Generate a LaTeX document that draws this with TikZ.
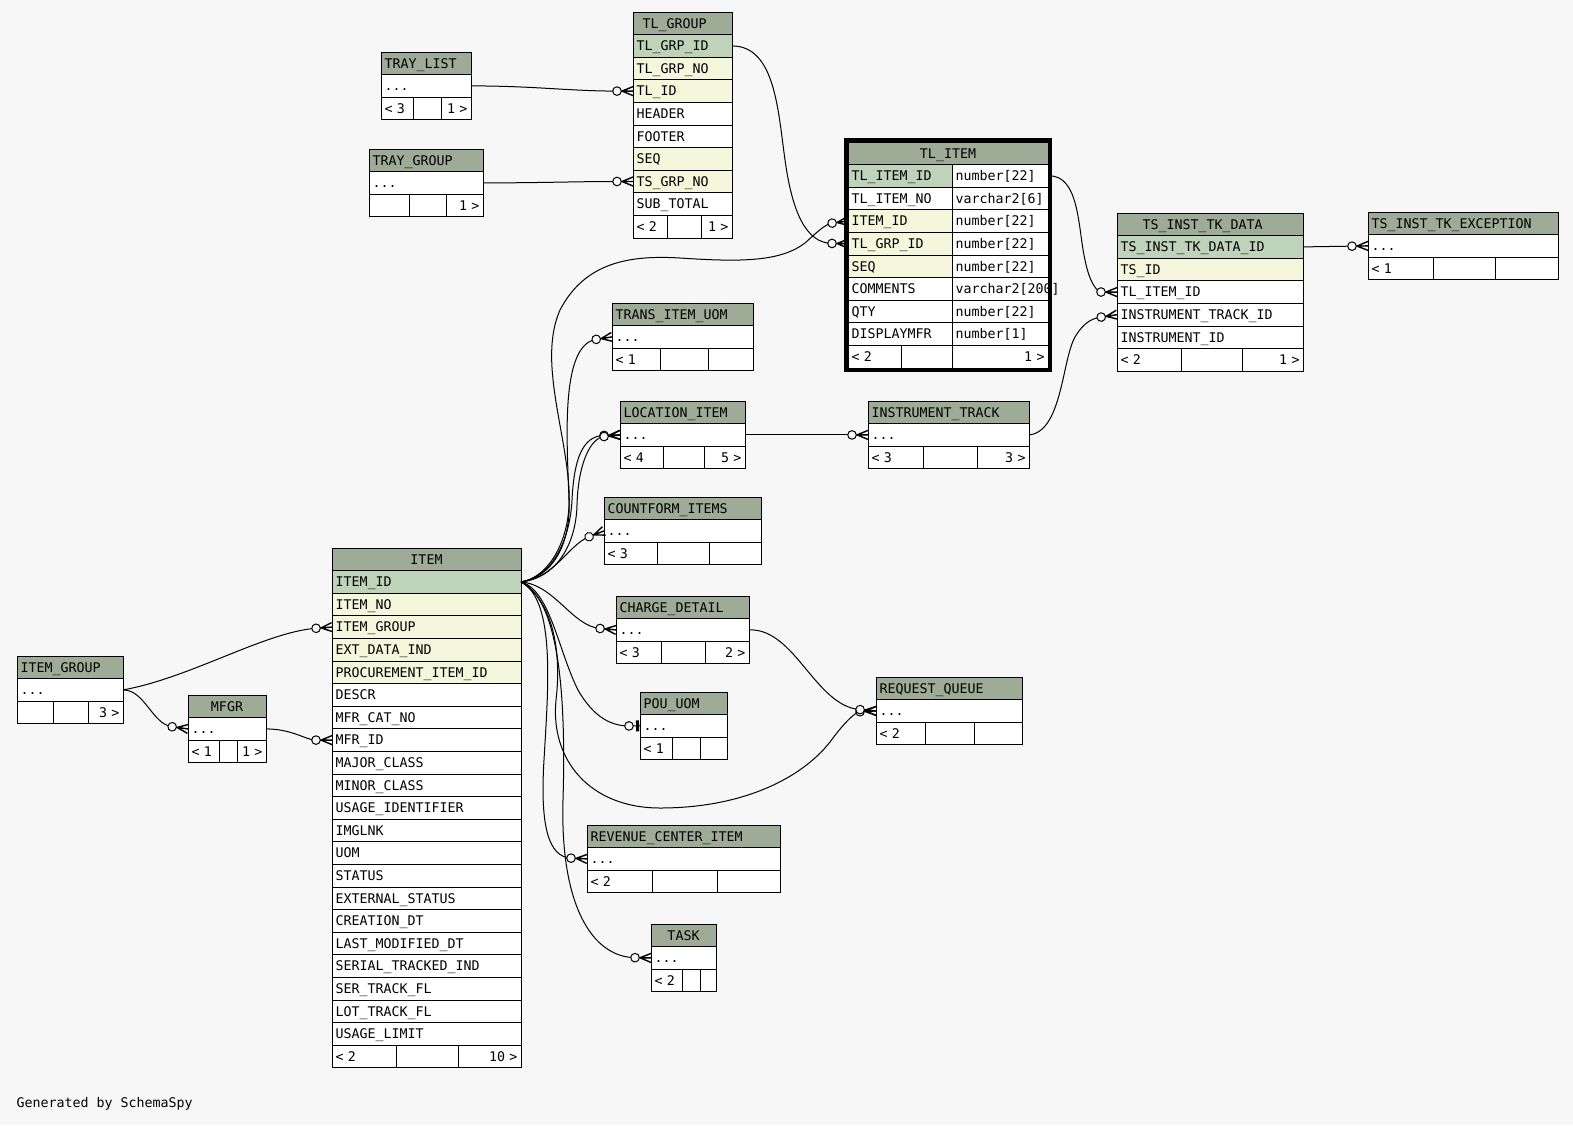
\documentclass[tikz,border=0pt]{standalone}
\usepackage{fontspec}
\usepackage{tikz}
\usetikzlibrary{positioning}
\newfontfamily\schemafont{DejaVu Sans Mono}
\definecolor{bgc}{HTML}{F7F7F7}
\definecolor{hdrc}{HTML}{9EAB96}
\definecolor{pkc}{HTML}{BFD3BA}
\definecolor{fkc}{HTML}{F5F7DC}

% zero or many: ring and crow's foot
\pgfdeclarearrow{
  name=crowodot,
  setup code={
    \pgfarrowssettipend{0pt}
    \pgfarrowssetlineend{-16pt}
    \pgfarrowssetbackend{-21pt}
    \pgfarrowshullpoint{0pt}{5pt}
    \pgfarrowshullpoint{0pt}{-5pt}
    \pgfarrowshullpoint{-21pt}{5pt}
    \pgfarrowshullpoint{-21pt}{-5pt}
  },
  drawing code={
    \pgfsetlinewidth{1.4pt}
    \pgfpathmoveto{\pgfqpoint{0pt}{4.5pt}}
    \pgfpathlineto{\pgfqpoint{-11pt}{0pt}}
    \pgfpathlineto{\pgfqpoint{0pt}{-4.5pt}}
    \pgfpathmoveto{\pgfqpoint{0pt}{0pt}}
    \pgfpathlineto{\pgfqpoint{-11.7pt}{0pt}}
    \pgfusepathqstroke
    \pgfsetlinewidth{1pt}
    \pgfsetfillcolor{bgc}
    \pgfpathcircle{\pgfqpoint{-16pt}{0pt}}{4.3pt}
    \pgfusepathqfillstroke
  }
}
% zero or one: ring and bar
\pgfdeclarearrow{
  name=teeodot,
  setup code={
    \pgfarrowssettipend{0pt}
    \pgfarrowssetlineend{-11pt}
    \pgfarrowssetbackend{-16pt}
    \pgfarrowshullpoint{0pt}{6pt}
    \pgfarrowshullpoint{0pt}{-6pt}
    \pgfarrowshullpoint{-16pt}{6pt}
    \pgfarrowshullpoint{-16pt}{-6pt}
  },
  drawing code={
    \pgfpathmoveto{\pgfqpoint{0pt}{0pt}}
    \pgfpathlineto{\pgfqpoint{-6.7pt}{0pt}}
    \pgfusepathqstroke
    \pgfsetfillcolor{black}
    \pgfpathrectangle{\pgfqpoint{-4pt}{-5.5pt}}{\pgfqpoint{3pt}{11pt}}
    \pgfusepathqfill
    \pgfsetfillcolor{bgc}
    \pgfpathcircle{\pgfqpoint{-11pt}{0pt}}{4.3pt}
    \pgfusepathqfillstroke
  }
}

\begin{document}
\begin{tikzpicture}[x=1pt, y=-1pt, line width=1pt,
    every node/.style={font=\schemafont\fontsize{13.3}{16}\selectfont},
    cell/.style={draw, outer sep=0pt, inner ysep=0pt, inner xsep=3.5pt, minimum height=22.6pt,
        text height=9.7pt, text depth=0pt, align=left},
    hdr/.style={cell, fill=hdrc},
    pkey/.style={cell, fill=pkc},
    fkey/.style={cell, fill=fkc},
    fld/.style={cell, fill=white},
    ftext/.style={cell, draw=none, align=right},
    crowline/.style={-crowodot},
    barline/.style={-teeodot}]
    \fill[bgc] (0,0) rectangle (1573,1125);

    % TRAY_LIST
    \begin{scope}[every node/.append style={text width=83pt}]
        \node[hdr, anchor=north west] (tray-hd) at (381,52) {TRAY\_LIST};
        \node[fld, below=0pt of tray-hd] (tray-dots) {...};
        \node[fld, below=0pt of tray-dots] (tray-ft) {< 3};
        \node[ftext, below=0pt of tray-dots] (tray-ftr) {1 >};
        \draw ([xshift=32pt]tray-ft.north west) -- ([xshift=32pt]tray-ft.south west)
              ([xshift=60pt]tray-ft.north west) -- ([xshift=60pt]tray-ft.south west);
    \end{scope}

    % TRAY_GROUP
    \begin{scope}[every node/.append style={text width=107pt}]
        \node[hdr, anchor=north west] (trgrp-hd) at (369,149) {TRAY\_GROUP};
        \node[fld, below=0pt of trgrp-hd] (trgrp-dots) {...};
        \node[fld, below=0pt of trgrp-dots] (trgrp-ft) {};
        \node[ftext, below=0pt of trgrp-dots] (trgrp-ftr) {1 >};
        \draw ([xshift=40pt]trgrp-ft.north west) -- ([xshift=40pt]trgrp-ft.south west)
              ([xshift=77pt]trgrp-ft.north west) -- ([xshift=77pt]trgrp-ft.south west);
    \end{scope}

    % TL_GROUP
    \begin{scope}[every node/.append style={text width=92pt}]
        \node[hdr, anchor=north west] (tlg-hd) at (633,12) {\hspace*{6pt}TL\_GROUP};
        \node[pkey, below=0pt of tlg-hd] (tlg-grpid) {TL\_GRP\_ID};
        \node[fkey, below=0pt of tlg-grpid] (tlg-grpno) {TL\_GRP\_NO};
        \node[fkey, below=0pt of tlg-grpno] (tlg-tlid) {TL\_ID};
        \node[fld, below=0pt of tlg-tlid] (tlg-header) {HEADER};
        \node[fld, below=0pt of tlg-header] (tlg-footer) {FOOTER};
        \node[fkey, below=0pt of tlg-footer] (tlg-seq) {SEQ};
        \node[fkey, below=0pt of tlg-seq] (tlg-tsgrp) {TS\_GRP\_NO};
        \node[fld, below=0pt of tlg-tsgrp] (tlg-subtot) {SUB\_TOTAL};
        \node[fld, below=0pt of tlg-subtot] (tlg-ft) {< 2};
        \node[ftext, below=0pt of tlg-subtot] (tlg-ftr) {1 >};
        \draw ([xshift=34pt]tlg-ft.north west) -- ([xshift=34pt]tlg-ft.south west)
              ([xshift=68pt]tlg-ft.north west) -- ([xshift=68pt]tlg-ft.south west);
    \end{scope}

    % TL_ITEM
    \begin{scope}[every node/.append style={text width=97pt}]
        \node[hdr, align=center, text width=193pt, anchor=north west] (tli-hd) at (848,142) {TL\_ITEM};
        \node[pkey, anchor=north west] (tli-id) at (tli-hd.south west) {TL\_ITEM\_ID};
        \node[fld, below=0pt of tli-id] (tli-no) {TL\_ITEM\_NO};
        \node[fkey, below=0pt of tli-no] (tli-itemid) {ITEM\_ID};
        \node[fkey, below=0pt of tli-itemid] (tli-grpid) {TL\_GRP\_ID};
        \node[fkey, below=0pt of tli-grpid] (tli-seq) {SEQ};
        \node[fld, below=0pt of tli-seq] (tli-comm) {COMMENTS};
        \node[fld, below=0pt of tli-comm] (tli-qty) {QTY};
        \node[fld, below=0pt of tli-qty] (tli-mfr) {DISPLAYMFR};
        \node[fld, text width=89pt, right=0pt of tli-id] (tli-id-t) {number[22]};
        \node[fld, text width=89pt, right=0pt of tli-no] (tli-no-t) {varchar2[6]};
        \node[fld, text width=89pt, right=0pt of tli-itemid] (tli-itemid-t) {number[22]};
        \node[fld, text width=89pt, right=0pt of tli-grpid] (tli-grpid-t) {number[22]};
        \node[fld, text width=89pt, right=0pt of tli-seq] (tli-seq-t) {number[22]};
        \node[fld, text width=89pt, right=0pt of tli-comm] (tli-comm-t) {\mbox{varchar2[200]}};
        \node[fld, text width=89pt, right=0pt of tli-qty] (tli-qty-t) {number[22]};
        \node[fld, text width=89pt, right=0pt of tli-mfr] (tli-mfr-t) {number[1]};
        \node[fld, text width=193pt, anchor=north west] (tli-ft) at (tli-mfr.south west) {< 2};
        \node[ftext, text width=193pt, anchor=north west] (tli-ftr) at (tli-mfr.south west) {1 >};
        \draw ([xshift=53pt]tli-ft.north west) -- ([xshift=53pt]tli-ft.south west)
              ([xshift=104pt]tli-ft.north west) -- ([xshift=104pt]tli-ft.south west);
        \draw[line width=3.5pt] ([xshift=-2pt,yshift=2pt]tli-hd.north west) rectangle ([xshift=2pt,yshift=-2pt]tli-ft.south east);
    \end{scope}

    % TS_INST_TK_DATA
    \begin{scope}[every node/.append style={text width=179pt}]
        \node[hdr, anchor=north west] (tsd-hd) at (1117,213) {\hspace*{22pt}TS\_INST\_TK\_DATA};
        \node[pkey, below=0pt of tsd-hd] (tsd-id) {TS\_INST\_TK\_DATA\_ID};
        \node[fkey, below=0pt of tsd-id] (tsd-tsid) {TS\_ID};
        \node[fld, below=0pt of tsd-tsid] (tsd-tlitem) {TL\_ITEM\_ID};
        \node[fld, below=0pt of tsd-tlitem] (tsd-insttrk) {INSTRUMENT\_TRACK\_ID};
        \node[fld, below=0pt of tsd-insttrk] (tsd-instid) {INSTRUMENT\_ID};
        \node[fld, below=0pt of tsd-instid] (tsd-ft) {< 2};
        \node[ftext, below=0pt of tsd-instid] (tsd-ftr) {1 >};
        \draw ([xshift=64pt]tsd-ft.north west) -- ([xshift=64pt]tsd-ft.south west)
              ([xshift=125pt]tsd-ft.north west) -- ([xshift=125pt]tsd-ft.south west);
    \end{scope}

    % TS_INST_TK_EXCEPTION
    \begin{scope}[every node/.append style={text width=183pt}]
        \node[hdr, anchor=north west] (tse-hd) at (1368,212) {TS\_INST\_TK\_EXCEPTION};
        \node[fld, below=0pt of tse-hd] (tse-dots) {...};
        \node[fld, below=0pt of tse-dots] (tse-ft) {< 1};
        \draw ([xshift=65pt]tse-ft.north west) -- ([xshift=65pt]tse-ft.south west)
              ([xshift=127pt]tse-ft.north west) -- ([xshift=127pt]tse-ft.south west);
    \end{scope}

    % TRANS_ITEM_UOM
    \begin{scope}[every node/.append style={text width=134pt}]
        \node[hdr, anchor=north west] (tiu-hd) at (612,303) {TRANS\_ITEM\_UOM};
        \node[fld, below=0pt of tiu-hd] (tiu-dots) {...};
        \node[fld, below=0pt of tiu-dots] (tiu-ft) {< 1};
        \draw ([xshift=48pt]tiu-ft.north west) -- ([xshift=48pt]tiu-ft.south west)
              ([xshift=96pt]tiu-ft.north west) -- ([xshift=96pt]tiu-ft.south west);
    \end{scope}

    % LOCATION_ITEM
    \begin{scope}[every node/.append style={text width=118pt}]
        \node[hdr, anchor=north west] (loc-hd) at (620,401) {LOCATION\_ITEM};
        \node[fld, below=0pt of loc-hd] (loc-dots) {...};
        \node[fld, below=0pt of loc-dots] (loc-ft) {< 4};
        \node[ftext, below=0pt of loc-dots] (loc-ftr) {5 >};
        \draw ([xshift=43pt]loc-ft.north west) -- ([xshift=43pt]loc-ft.south west)
              ([xshift=84pt]loc-ft.north west) -- ([xshift=84pt]loc-ft.south west);
    \end{scope}

    % INSTRUMENT_TRACK
    \begin{scope}[every node/.append style={text width=154pt}]
        \node[hdr, anchor=north west] (ins-hd) at (868,401) {INSTRUMENT\_TRACK};
        \node[fld, below=0pt of ins-hd] (ins-dots) {...};
        \node[fld, below=0pt of ins-dots] (ins-ft) {< 3};
        \node[ftext, below=0pt of ins-dots] (ins-ftr) {3 >};
        \draw ([xshift=55pt]ins-ft.north west) -- ([xshift=55pt]ins-ft.south west)
              ([xshift=109pt]ins-ft.north west) -- ([xshift=109pt]ins-ft.south west);
    \end{scope}

    % COUNTFORM_ITEMS
    \begin{scope}[every node/.append style={text width=150pt}]
        \node[hdr, anchor=north west] (cnt-hd) at (604,497) {COUNTFORM\_ITEMS};
        \node[fld, below=0pt of cnt-hd] (cnt-dots) {...};
        \node[fld, below=0pt of cnt-dots] (cnt-ft) {< 3};
        \draw ([xshift=53pt]cnt-ft.north west) -- ([xshift=53pt]cnt-ft.south west)
              ([xshift=105pt]cnt-ft.north west) -- ([xshift=105pt]cnt-ft.south west);
    \end{scope}

    % CHARGE_DETAIL
    \begin{scope}[every node/.append style={text width=126pt}]
        \node[hdr, anchor=north west] (chg-hd) at (616,596) {CHARGE\_DETAIL};
        \node[fld, below=0pt of chg-hd] (chg-dots) {...};
        \node[fld, below=0pt of chg-dots] (chg-ft) {< 3};
        \node[ftext, below=0pt of chg-dots] (chg-ftr) {2 >};
        \draw ([xshift=45pt]chg-ft.north west) -- ([xshift=45pt]chg-ft.south west)
              ([xshift=89pt]chg-ft.north west) -- ([xshift=89pt]chg-ft.south west);
    \end{scope}

    % POU_UOM
    \begin{scope}[every node/.append style={text width=80pt}]
        \node[hdr, anchor=north west] (pou-hd) at (640,692) {POU\_UOM};
        \node[fld, below=0pt of pou-hd] (pou-dots) {...};
        \node[fld, below=0pt of pou-dots] (pou-ft) {< 1};
        \draw ([xshift=32pt]pou-ft.north west) -- ([xshift=32pt]pou-ft.south west)
              ([xshift=60pt]pou-ft.north west) -- ([xshift=60pt]pou-ft.south west);
    \end{scope}

    % REQUEST_QUEUE
    \begin{scope}[every node/.append style={text width=139pt}]
        \node[hdr, anchor=north west] (req-hd) at (876,677) {REQUEST\_QUEUE};
        \node[fld, below=0pt of req-hd] (req-dots) {...};
        \node[fld, below=0pt of req-dots] (req-ft) {< 2};
        \draw ([xshift=49pt]req-ft.north west) -- ([xshift=49pt]req-ft.south west)
              ([xshift=98pt]req-ft.north west) -- ([xshift=98pt]req-ft.south west);
    \end{scope}

    % REVENUE_CENTER_ITEM
    \begin{scope}[every node/.append style={text width=186pt}]
        \node[hdr, anchor=north west] (rev-hd) at (587,825) {REVENUE\_CENTER\_ITEM};
        \node[fld, below=0pt of rev-hd] (rev-dots) {...};
        \node[fld, below=0pt of rev-dots] (rev-ft) {< 2};
        \draw ([xshift=65pt]rev-ft.north west) -- ([xshift=65pt]rev-ft.south west)
              ([xshift=130pt]rev-ft.north west) -- ([xshift=130pt]rev-ft.south west);
    \end{scope}

    % TASK
    \begin{scope}[every node/.append style={text width=58pt}]
        \node[hdr, align=center, anchor=north west] (task-hd) at (651,924) {TASK};
        \node[fld, below=0pt of task-hd] (task-dots) {...};
        \node[fld, below=0pt of task-dots] (task-ft) {< 2};
        \draw ([xshift=31pt]task-ft.north west) -- ([xshift=31pt]task-ft.south west)
              ([xshift=49pt]task-ft.north west) -- ([xshift=49pt]task-ft.south west);
    \end{scope}

    % ITEM_GROUP
    \begin{scope}[every node/.append style={text width=99pt}]
        \node[hdr, anchor=north west] (igrp-hd) at (17,656) {ITEM\_GROUP};
        \node[fld, below=0pt of igrp-hd] (igrp-dots) {...};
        \node[fld, below=0pt of igrp-dots] (igrp-ft) {};
        \node[ftext, below=0pt of igrp-dots] (igrp-ftr) {3 >};
        \draw ([xshift=36pt]igrp-ft.north west) -- ([xshift=36pt]igrp-ft.south west)
              ([xshift=71pt]igrp-ft.north west) -- ([xshift=71pt]igrp-ft.south west);
    \end{scope}

    % MFGR
    \begin{scope}[every node/.append style={text width=71pt}]
        \node[hdr, align=center, anchor=north west] (mfgr-hd) at (188,695) {MFGR};
        \node[fld, below=0pt of mfgr-hd] (mfgr-dots) {...};
        \node[fld, below=0pt of mfgr-dots] (mfgr-ft) {< 1};
        \node[ftext, below=0pt of mfgr-dots] (mfgr-ftr) {1 >};
        \draw ([xshift=31pt]mfgr-ft.north west) -- ([xshift=31pt]mfgr-ft.south west)
              ([xshift=49pt]mfgr-ft.north west) -- ([xshift=49pt]mfgr-ft.south west);
    \end{scope}

    % ITEM
    \begin{scope}[every node/.append style={text width=182pt}]
        \node[hdr, align=center, anchor=north west] (item-hd) at (332,548) {ITEM};
        \node[pkey, below=0pt of item-hd] (item-id) {ITEM\_ID};
        \node[fkey, below=0pt of item-id] (item-no) {ITEM\_NO};
        \node[fkey, below=0pt of item-no] (item-group) {ITEM\_GROUP};
        \node[fkey, below=0pt of item-group] (item-ext) {EXT\_DATA\_IND};
        \node[fkey, below=0pt of item-ext] (item-proc) {PROCUREMENT\_ITEM\_ID};
        \node[fld, below=0pt of item-proc] (item-descr) {DESCR};
        \node[fld, below=0pt of item-descr] (item-cat) {MFR\_CAT\_NO};
        \node[fld, below=0pt of item-cat] (item-mfrid) {MFR\_ID};
        \node[fld, below=0pt of item-mfrid] (item-major) {MAJOR\_CLASS};
        \node[fld, below=0pt of item-major] (item-minor) {MINOR\_CLASS};
        \node[fld, below=0pt of item-minor] (item-usage) {USAGE\_IDENTIFIER};
        \node[fld, below=0pt of item-usage] (item-img) {IMGLNK};
        \node[fld, below=0pt of item-img] (item-uom) {UOM};
        \node[fld, below=0pt of item-uom] (item-status) {STATUS};
        \node[fld, below=0pt of item-status] (item-extst) {EXTERNAL\_STATUS};
        \node[fld, below=0pt of item-extst] (item-created) {CREATION\_DT};
        \node[fld, below=0pt of item-created] (item-modified) {LAST\_MODIFIED\_DT};
        \node[fld, below=0pt of item-modified] (item-serial) {SERIAL\_TRACKED\_IND};
        \node[fld, below=0pt of item-serial] (item-sertrk) {SER\_TRACK\_FL};
        \node[fld, below=0pt of item-sertrk] (item-lottrk) {LOT\_TRACK\_FL};
        \node[fld, below=0pt of item-lottrk] (item-limit) {USAGE\_LIMIT};
        \node[fld, below=0pt of item-limit] (item-ft) {< 2};
        \node[ftext, below=0pt of item-limit] (item-ftr) {10 >};
        \draw ([xshift=64pt]item-ft.north west) -- ([xshift=64pt]item-ft.south west)
              ([xshift=126pt]item-ft.north west) -- ([xshift=126pt]item-ft.south west);
    \end{scope}

    \node[anchor=base west, inner sep=0pt] (gen) at (16,1107) {Generated by SchemaSpy};

    % relationships
    \draw[crowline] (tray-dots.east) to[out=0, in=180] (tlg-tlid.west);
    \draw[crowline] (trgrp-dots.east) to[out=0, in=180] (tlg-tsgrp.west);
    \draw[crowline] (tlg-grpid.east) .. controls (775,46) and (778,110) .. (785,160)
        .. controls (792,210) and (805,243) .. (tli-grpid.west);
    \draw[crowline] (tli-id-t.east) .. controls (1080,174) and (1078,230) .. (1085,260)
        .. controls (1090,285) and (1098,292) .. (tsd-tlitem.west);
    \draw[crowline] (ins-dots.east) .. controls (1062,432) and (1062,360) .. (1075,337)
        .. controls (1085,320) and (1095,318) .. (tsd-insttrk.west);
    \draw[crowline] (tsd-id.east) -- (tse-dots.west);
    \draw[crowline] (loc-dots.east) -- (ins-dots.west);
    \draw[crowline] (item-id.east) .. controls (548,578) and (572,540) .. (569,490)
        .. controls (566,430) and (538,360) .. (560,310)
        .. controls (585,262) and (630,255) .. (680,258)
        .. controls (740,262) and (780,262) .. (805,243)
        .. controls (815,234) and (825,224) .. (tli-itemid.west);
    \draw[crowline] (item-id.east) .. controls (552,577) and (571,545) .. (569,500)
        .. controls (567,440) and (560,345) .. (tiu-dots.west);
    \draw[crowline] (item-id.east) .. controls (552,577) and (570,540) .. (572,500)
        .. controls (574,460) and (582,436) .. (loc-dots.west);
    \draw[crowline] (item-id.east) .. controls (556,578) and (576,545) .. (577,505)
        .. controls (578,465) and (590,438) .. (loc-dots.west);
    \draw[crowline] (item-id.east) .. controls (555,578) and (568,545) .. (cnt-dots.west);
    \draw[crowline] (item-id.east) .. controls (555,585) and (572,626) .. (chg-dots.west);
    \draw[barline] (item-id.east) .. controls (550,590) and (558,650) .. (578,690)
        .. controls (594,718) and (612,726) .. (pou-dots.west);
    \draw[crowline] (item-id.east) .. controls (552,600) and (562,650) .. (556,700)
        .. controls (550,760) and (590,808) .. (660,808)
        .. controls (740,808) and (800,780) .. (830,742)
        .. controls (843,724) and (855,712) .. (req-dots.west);
    \draw[crowline] (chg-dots.east) .. controls (795,628) and (815,706) .. (req-dots.west);
    \draw[crowline] (item-id.east) .. controls (556,600) and (548,690) .. (544,760)
        .. controls (540,825) and (548,857) .. (rev-dots.west);
    \draw[crowline] (item-id.east) .. controls (560,600) and (566,700) .. (563,800)
        .. controls (560,905) and (592,957) .. (task-dots.west);
    \draw[crowline] (igrp-dots.east) .. controls (190,678) and (265,632) .. (item-group.west);
    \draw[crowline] (igrp-dots.east) .. controls (145,690) and (152,724) .. (mfgr-dots.west);
    \draw[crowline] (mfgr-dots.east) to[out=0, in=180] (item-mfrid.west);
\end{tikzpicture}
\end{document}
